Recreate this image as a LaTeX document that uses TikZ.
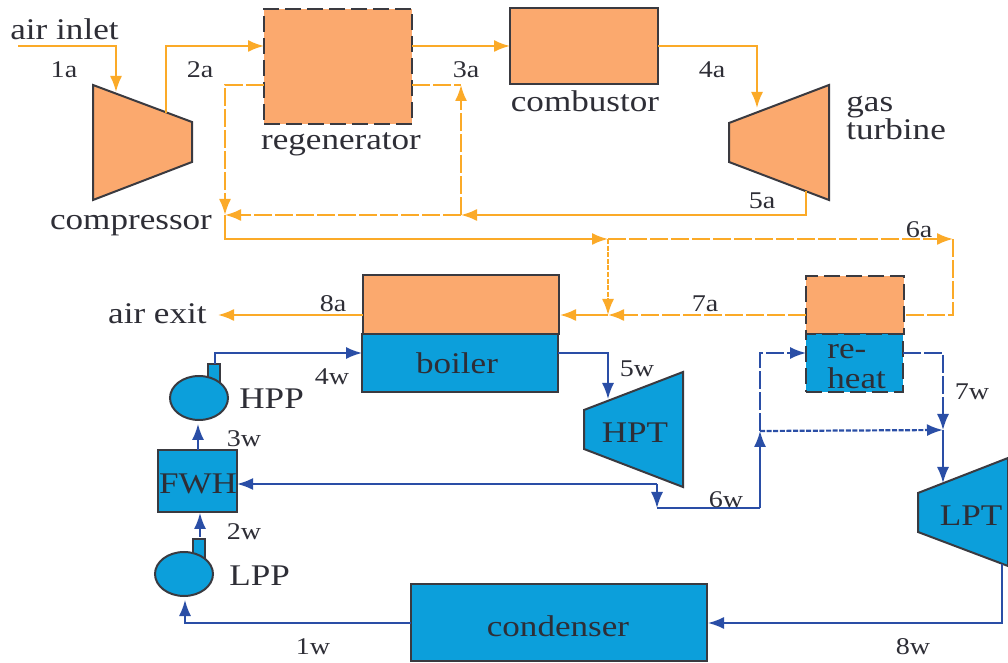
\documentclass[tikz,border=0pt]{standalone}
\usepackage{fontspec}
\setmainfont{Liberation Serif}[FakeStretch=1.17]
\usepackage{tikz}
\usetikzlibrary{arrows.meta,calc,positioning,shapes.geometric}
\definecolor{airfill}{HTML}{FBA96E}
\definecolor{airline}{HTML}{FBAA28}
\definecolor{waterfill}{HTML}{0C9FDB}
\definecolor{waterline}{HTML}{2A4EA6}
\definecolor{inkdark}{HTML}{3A3A40}
\definecolor{inktext}{HTML}{2E2E36}
\newcommand{\bigfont}{\fontsize{15}{15}\selectfont}
\newcommand{\smallfont}{\fontsize{12}{15}\selectfont}
\tikzset{
  airbox/.style={draw=inkdark,fill=airfill,line width=1pt,inner sep=0pt},
  waterbox/.style={draw=inkdark,fill=waterfill,line width=1pt,inner sep=0pt},
  dashbox/.style={dash pattern=on 8pt off 3pt},
  air/.style={draw=airline,line width=.95pt},
  water/.style={draw=waterline,line width=.85pt},
  longdash/.style={dash pattern=on 9pt off 1.5pt},
  shortdash/.style={dash pattern=on 2.5pt off .8pt},
  name text/.style={inktext,font=\bigfont,inner sep=0pt,anchor=base,yshift=-1pt},
  state/.style={inktext,font=\smallfont,inner sep=0pt,anchor=base,yshift=-1pt},
}
\begin{document}
\begin{tikzpicture}[x=.5pt,y=-.5pt,>={Latex[length=8pt,width=6pt]}]
\useasboundingbox (0,0) rectangle (1008,663);
% turbomachines
\draw[airbox] (93,85)--(192,122)--(192,162)--(93,200)--cycle;
\draw[airbox] (729,123)--(829,85)--(829,200)--(729,162)--cycle;
\draw[waterbox] (584,410)--(683,372)--(683,487)--(584,449)--cycle;
\draw[waterbox] (918,493)--(1008,458)--(1008,566)--(918,532)--cycle;
% boxes
\node[airbox,dashbox,minimum width=74pt,minimum height=57.5pt] (regen) at (338,66.5) {};
\node[airbox,minimum width=74pt,minimum height=38pt] (comb) at (584,46) {};
\node[airbox,minimum width=98pt,minimum height=29.5pt] (boilera) at (461,304.5) {};
\node[waterbox,minimum width=98pt,minimum height=29pt] (boilerw) at (460,363) {};
\node[airbox,dashbox,minimum width=49pt,minimum height=29pt] (reheata) at (855,305) {};
\node[waterbox,dashbox,minimum width=48.5pt,minimum height=29pt] (reheatw) at (854.5,363) {};
\node[waterbox,minimum width=39.5pt,minimum height=31pt] (fwh) at (197.5,481) {};
\node[waterbox,minimum width=148pt,minimum height=38.5pt] (cond) at (559,622.5) {};
% pumps
\draw[waterbox] (208,364) rectangle (220,388);
\draw[waterbox] (193,539) rectangle (205,563);
\node[waterbox,ellipse,minimum width=29pt,minimum height=22pt] (hpp) at (199,398) {};
\node[waterbox,ellipse,minimum width=29pt,minimum height=22pt] (lpp) at (184,574) {};
% points on the lines
\coordinate (inlet) at (18,46);
\coordinate (compin) at (116,92);
\coordinate (compout) at (166,113);
\coordinate (turbin) at (757,108);
\coordinate (turbout) at (806,191);
\coordinate (regenin) at (264,46);
\coordinate (regenout) at (412,46);
\coordinate (combin) at (510,46);
\coordinate (combout) at (658,46);
\coordinate (hotout) at (264,85);
\coordinate (hotin) at (412,85);
\coordinate (bypass) at (461,85);
\coordinate (split) at (461,215);
\coordinate (mixa) at (225,215);
\coordinate (branch) at (608,239);
\coordinate (corner) at (953,239);
\coordinate (mixb) at (608,315);
\coordinate (reheatin) at (903,315);
\coordinate (reheatout) at (806,315);
\coordinate (boilerin) at (560,315);
\coordinate (boilerout) at (363,315);
\coordinate (exit) at (218,315);
\coordinate (hppout) at (215,364);
\coordinate (boilwin) at (362,353);
\coordinate (boilwout) at (558,353);
\coordinate (hptin) at (608,399);
\coordinate (hptout) at (657,484);
\coordinate (hptdown) at (657,508);
\coordinate (risefoot) at (760,508);
\coordinate (fwhin) at (237,484);
\coordinate (rise) at (760,431);
\coordinate (rhwin) at (806,353);
\coordinate (rhwout) at (903,353);
\coordinate (mixw) at (943,430);
\coordinate (lptin) at (943,483);
\coordinate (lptout) at (1002,564);
\coordinate (condin) at (708,623);
\coordinate (condout) at (411,623);
\coordinate (lppin) at (185,600);
\coordinate (lppout) at (200,537);
\coordinate (fwhinb) at (200,513);
\coordinate (fwhout) at (198,450);
\coordinate (hppin) at (198,424);
% air side
\draw[air,->] (inlet) -| (compin);
\draw[air,->] (compout) |- (regenin);
\draw[air,->] (regenout) -- (combin);
\draw[air,->] (combout) -| (turbin);
\draw[air,->] (turbout) |- (split);
\draw[air,longdash] (hotin) -- (bypass);
\draw[air,longdash,->] (split) -- (bypass);
\draw[air,longdash,->] (split) -- (mixa);
\draw[air,longdash,->] (hotout) -| (mixa);
\draw[air,->] (mixa) |- (branch);
\draw[air,longdash,->] (branch) -- (corner);
\draw[air,longdash] (corner) |- (reheatin);
\draw[air,shortdash,->] (branch) -- (mixb);
\draw[air,longdash,->] (reheatout) -- (mixb);
\draw[air,->] (mixb) -- (boilerin);
\draw[air,->] (boilerout) -- (exit);
% water side
\draw[water,->] (condout) -| (lppin);
\draw[water,->] (lppout) -- (fwhinb);
\draw[water,->] (fwhout) -- (hppin);
\draw[water,->] (hppout) |- (boilwin);
\draw[water,->] (boilwout) -| (hptin);
\draw[water,line width=1.1pt,->] (hptout) -- (fwhin);
\draw[water,->] (hptout) -- (hptdown);
\draw[water] (hptdown) -- (risefoot);
\draw[water,->] (risefoot) -- (rise);
\draw[water,longdash,->] (rise) |- (rhwin);
\draw[water,shortdash,line width=1.1pt,->] (rise) -- (mixw);
\draw[water,longdash,->] (rhwout) -| (mixw);
\draw[water,->] (mixw) -- (lptin);
\draw[water,->] (lptout) |- (condin);
% names
\node[name text,anchor=base west] (inletlab) at (10,38) {air inlet};
\node[name text] (regenlab) at (341,148) {regenerator};
\node[name text] (comblab) at (585,110) {combustor};
\node[name text] (complab) at (131,228) {compressor};
\node[name text,anchor=base west] (gaslab) at (846,110) {gas};
\node[name text,anchor=base west] (turblab) at (846,138) {turbine};
\node[name text,anchor=base east] (exitlab) at (207,322) {air exit};
\node[name text] (boilerlab) at (457,372) {boiler};
\node[name text,anchor=base west] (relab) at (827,357) {re-};
\node[name text,anchor=base west] (heatlab) at (827,387) {heat};
\node[name text] (hptlab) at (635,441) {HPT};
\node[name text] (lptlab) at (971,523) {LPT};
\node[name text] (fwhlab) at (198,492) {FWH};
\node[name text,anchor=base west] (hpplab) at (239,407) {HPP};
\node[name text,anchor=base west] (lpplab) at (229,584) {LPP};
\node[name text] (condlab) at (558,634) {condenser};
% states
\node[state] (s1a) at (64,76) {1a};
\node[state] (s2a) at (200,76) {2a};
\node[state] (s3a) at (466,76) {3a};
\node[state] (s4a) at (712,76) {4a};
\node[state] (s5a) at (762,207) {5a};
\node[state] (s6a) at (919,236) {6a};
\node[state] (s7a) at (705,310) {7a};
\node[state] (s8a) at (333,310) {8a};
\node[state] (s1w) at (313,652) {1w};
\node[state] (s2w) at (244,537) {2w};
\node[state] (s3w) at (244,445) {3w};
\node[state] (s4w) at (332,383) {4w};
\node[state] (s5w) at (637,375) {5w};
\node[state] (s6w) at (726,506) {6w};
\node[state] (s7w) at (972,398) {7w};
\node[state] (s8w) at (913,652) {8w};
\end{tikzpicture}
\end{document}
